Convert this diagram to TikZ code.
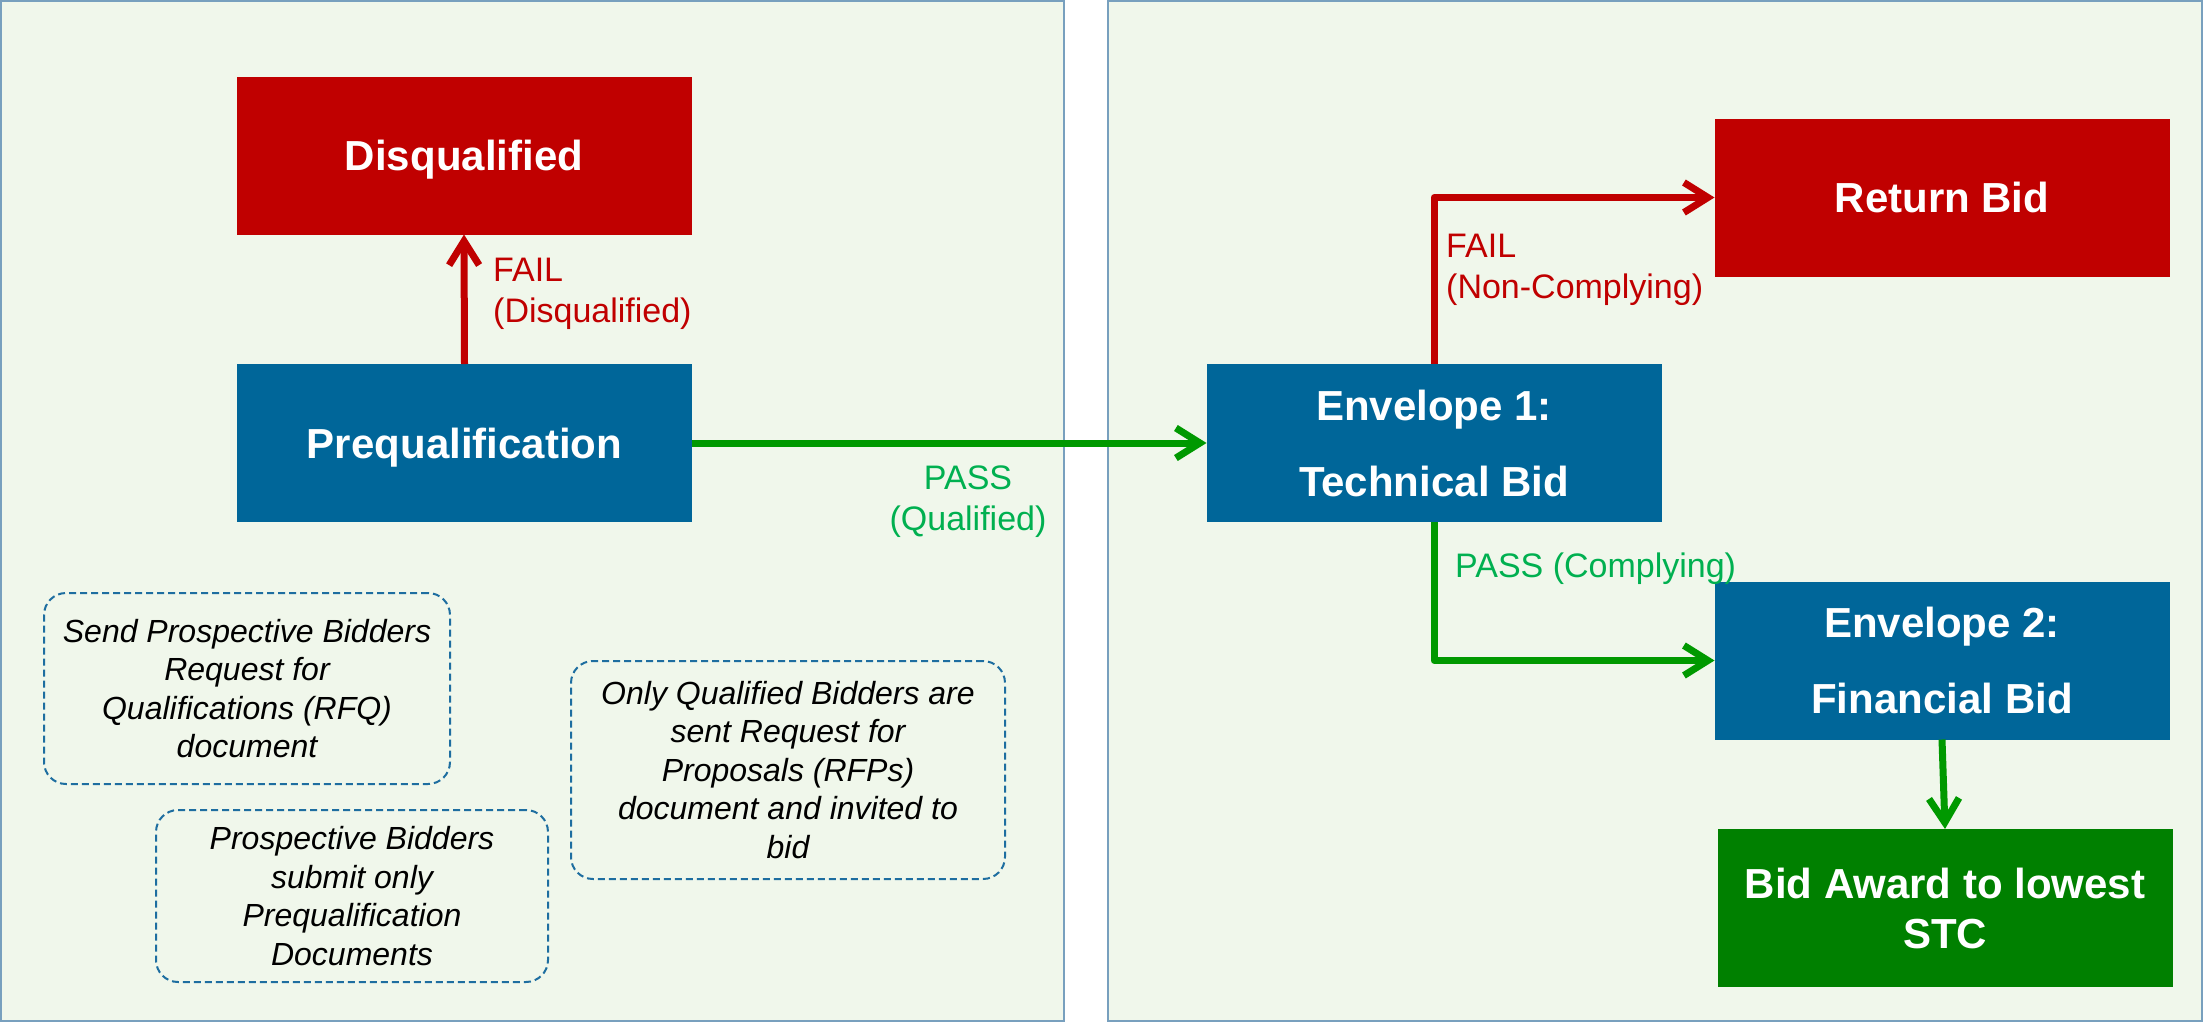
\documentclass[tikz,border=0pt]{standalone}
\usepackage{fontspec}
\setmainfont{Liberation Sans}
\usepackage{tikz}
\usetikzlibrary{
  arrows.meta,
  positioning
}
\definecolor{failred}{RGB}{192,0,0}
\definecolor{stageblue}{RGB}{0,102,153}
\definecolor{awardgreen}{RGB}{0,128,0}
\definecolor{passgreen}{RGB}{0,153,0}
\definecolor{passtext}{RGB}{0,176,80}
\definecolor{panelfill}{RGB}{240,247,235}
\definecolor{panelline}{RGB}{120,160,190}
\definecolor{noteline}{RGB}{30,110,160}
\tikzset{
  panel/.style={draw=panelline, fill=panelfill, line width=2pt},
  stagebox/.style={fill=stageblue, text=white, inner sep=0pt, outer sep=0pt,
    minimum width=455pt, minimum height=158pt, align=center, text depth=0pt,
    font=\fontsize{42}{76}\selectfont\bfseries},
  failbox/.style={stagebox, fill=failred},
  awardbox/.style={stagebox, fill=awardgreen,
    font=\fontsize{42}{50}\selectfont\bfseries},
  notebox/.style={draw=noteline, line width=2pt, dash pattern=on 7pt off 4pt,
    rounded corners=22pt, inner sep=0pt, align=center,
    font=\fontsize{32}{38.5}\selectfont\itshape},
  faillabel/.style={text=failred, inner sep=0pt, align=left,
    font=\fontsize{34}{41}\selectfont},
  passlabel/.style={faillabel, text=passtext},
  arr/.style={-{Straight Barb[length=24pt,width=30pt]}, line width=7pt,
    line join=round},
}

\begin{document}
\begin{tikzpicture}[x=1pt, y=-1pt]
  \useasboundingbox (0,0) rectangle (2206,1023);

  % the two stages
  \draw[panel] (1,1) rectangle (1064,1021);
  \draw[panel] (1108,1) rectangle (2202,1021);

  % Stage 1
  \node[failbox] (disq) at (464,155.5) {Disqualified};
  \node[stagebox] (prequal) at (464.5,443) {Prequalification};

  % Stage 2
  \node[stagebox] (env1) at (1434,443) {Envelope 1:\\Technical Bid};
  \node[failbox] (ret) at (1942,197.5) {Return Bid};
  \node[stagebox] (env2) at (1942,660.5) {Envelope 2:\\Financial Bid};
  \node[awardbox] (award) at (1945,908) {Bid Award to lowest\\STC};

  % Notes
  \node[notebox, minimum width=406pt, minimum height=191pt] (rfq) at (247,688.5)
    {Send Prospective Bidders\\Request for\\Qualifications (RFQ)\\document};
  \node[notebox, minimum width=392pt, minimum height=172pt] (submit) at (352,896)
    {Prospective Bidders\\submit only\\Prequalification\\Documents};
  \node[notebox, minimum width=434pt, minimum height=218pt] (rfp) at (788,770)
    {Only Qualified Bidders are\\sent Request for\\Proposals (RFPs)\\document and invited to\\bid};

  % Arrows
  \draw[arr, failred] (prequal.north) -- (disq.south);
  \draw[arr, passgreen] (prequal.east) -- (env1.west);
  \draw[arr, failred] (env1.north) |- (ret.west);
  \draw[arr, passgreen] (env1.south) |- (env2.west);
  \draw[arr, passgreen] (env2.south) -- (award.north);

  % Labels
  \node[faillabel, anchor=west] (faildisq) at (493,294) {FAIL\\(Disqualified)};
  \node[passlabel, align=center] (passqual) at (968,502) {PASS\\(Qualified)};
  \node[faillabel, anchor=west] (failret) at (1446,270) {FAIL\\(Non-Complying)};
  \node[passlabel, anchor=west] (passcomp) at (1455,569) {PASS (Complying)};
\end{tikzpicture}
\end{document}
